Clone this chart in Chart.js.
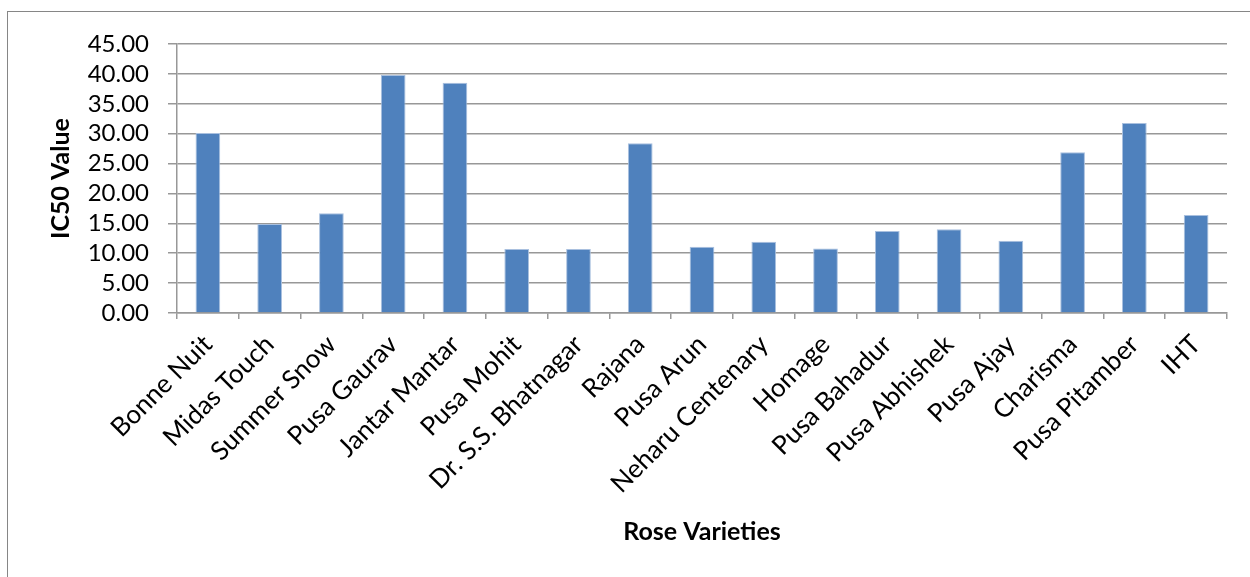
<!DOCTYPE html>
<html>
<head>
<meta charset="utf-8">
<script src="https://cdn.jsdelivr.net/npm/chart.js@4"></script>
<style>
  html, body { margin: 0; padding: 0; background: #fff; overflow: hidden; }
  #frame { position: absolute; left: 7px; top: 11px; width: 1400px; height: 800px; border: 1.5px solid #868686; }
  #wrap { position: absolute; left: 0; top: 0; width: 1250px; height: 577px; }
</style>
</head>
<body>
<div id="frame"></div>
<div id="wrap"><canvas id="chart"></canvas></div>
<script>
const varieties = ['Bonne Nuit', 'Midas Touch', 'Summer Snow', 'Pusa Gaurav', 'Jantar Mantar', 'Pusa Mohit',
  'Dr. S.S. Bhatnagar', 'Rajana', 'Pusa Arun', 'Neharu Centenary', 'Homage', 'Pusa Bahadur',
  'Pusa Abhishek', 'Pusa Ajay', 'Charisma', 'Pusa Pitamber', 'IHT'];
const ic50Values = [30.1, 14.9, 16.7, 39.8, 38.5, 10.7, 10.7, 28.4, 11.1, 11.9, 10.8, 13.7, 14.0, 12.1, 26.9, 31.8, 16.4];
const yMin = 0;
const yMax = 45;
const yStep = 5;

const gridGray = '#989898';

new Chart(document.getElementById('chart'), {
  type: 'bar',
  data: {
    labels: varieties,
    datasets: [{
      label: 'IC50 Value',
      data: ic50Values,
      backgroundColor: '#4F81BD',
      borderColor: '#A9C0DF',
      borderWidth: 1,
      barPercentage: 0.4,
      categoryPercentage: 1
    }]
  },
  options: {
    responsive: true,
    maintainAspectRatio: false,
    animation: false,
    layout: { padding: { left: 0, top: 44, right: 23, bottom: 0 } },
    plugins: { legend: { display: false }, tooltip: { enabled: false } },
    scales: {
      x: {
        grid: { drawOnChartArea: false, drawTicks: true, tickLength: 6, color: gridGray, lineWidth: 1.5 },
        border: { color: gridGray, width: 1.5 },
        ticks: {
          color: '#000',
          font: { family: 'Lato', size: 26 },
          maxRotation: 45,
          minRotation: 45,
          autoSkip: false,
          padding: 10
        },
        title: {
          display: true,
          text: 'Rose Varieties',
          color: '#000',
          font: { family: 'Lato', size: 25, weight: 'bold' },
          padding: { top: 0, bottom: 30 }
        },
        afterFit(scale) { scale.height = 264; }
      },
      y: {
        min: yMin,
        max: yMax,
        grid: { color: gridGray, lineWidth: 1.5, tickLength: 9 },
        border: { color: gridGray, width: 1.5 },
        ticks: {
          stepSize: yStep,
          autoSkip: false,
          color: '#000',
          font: { family: 'Lato', size: 24 },
          padding: 19,
          callback: v => v.toFixed(2)
        },
        title: {
          display: true,
          text: 'IC50 Value',
          color: '#000',
          font: { family: 'Lato', size: 25, weight: 'bold' },
          padding: { top: 46, bottom: 0 }
        },
        afterFit(scale) { scale.width = 177; }
      }
    }
  }
});
</script>
</body>
</html>
